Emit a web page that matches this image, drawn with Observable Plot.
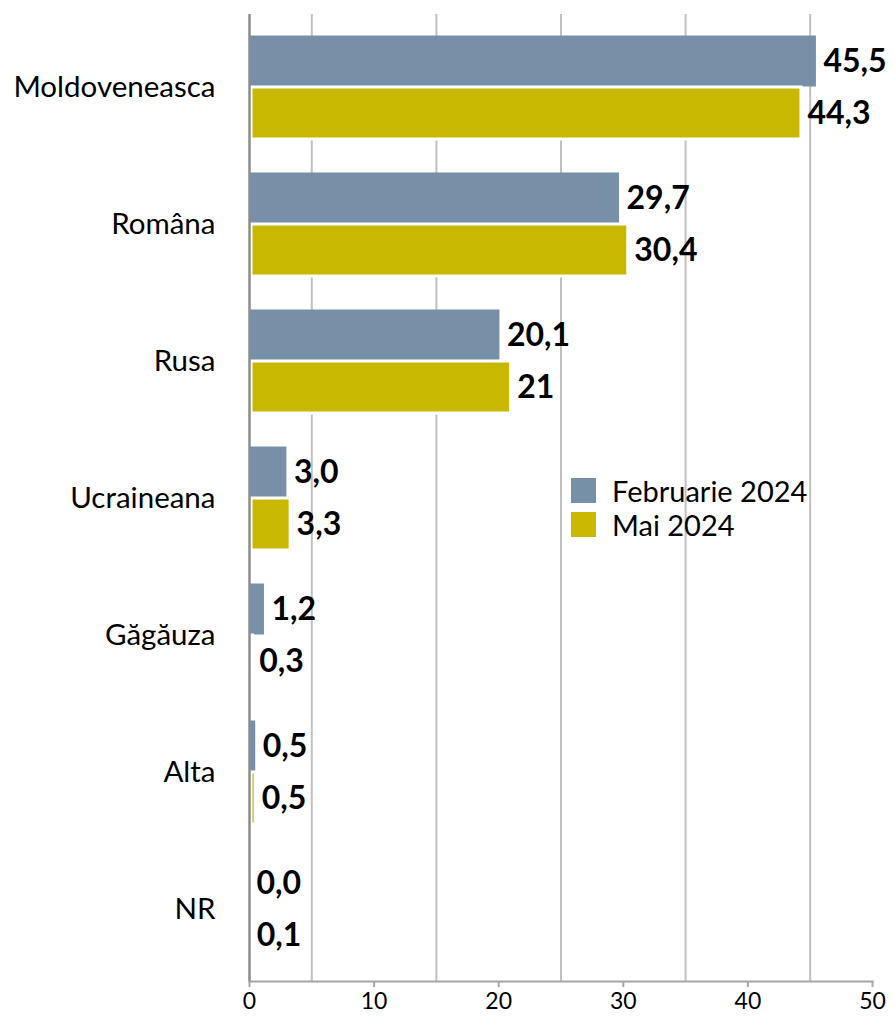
<!DOCTYPE html>
<html>
<head>
<meta charset="utf-8">
<script src="https://cdn.jsdelivr.net/npm/d3@7"></script>
<script src="https://cdn.jsdelivr.net/npm/@observablehq/plot@0.6"></script>
<style>
  html, body { margin: 0; padding: 0; background: #fff; }
  #wrap { position: relative; width: 893px; height: 1022px; font-family: Lato, "Open Sans", sans-serif; }
  .leg { position: absolute; left: 571px; height: 30px; font-size: 29px; color: #000; display: flex; align-items: center; }
  .sw { width: 25px; height: 25px; margin-right: 16px; }
</style>
</head>
<body>
<div id="wrap"></div>
<script>
const categories = ["Moldoveneasca", "Româna", "Rusa", "Ucraineana", "Găgăuza", "Alta", "NR"];
const feb = [45.5, 29.7, 20.1, 3.0, 1.2, 0.5, 0.0];
const mai = [44.3, 30.4, 21, 3.3, 0.3, 0.5, 0.1];
const febLabels = ["45,5", "29,7", "20,1", "3,0", "1,2", "0,5", "0,0"];
const maiLabels = ["44,3", "30,4", "21", "3,3", "0,3", "0,5", "0,1"];
const seriesNames = ["Februarie 2024", "Mai 2024"];
const colors = ["#7890a7", "#c9b800"];
const xTicks = [0, 10, 20, 30, 40, 50];
const gridValues = [5, 15, 25, 35, 45];

const febRows = categories.map((c, i) => ({cat: c, v: feb[i], label: febLabels[i]}));
const maiRows = categories.map((c, i) => ({cat: c, v: mai[i], label: maiLabels[i]}));

const chart = Plot.plot({
  width: 893,
  height: 1022,
  marginLeft: 249,
  marginRight: 21,
  marginTop: 14,
  marginBottom: 41,
  style: {fontFamily: "Lato, 'Open Sans', sans-serif", color: "#000", background: "#fff"},
  x: {domain: [0, 50], ticks: xTicks, label: null},
  y: {domain: categories, padding: 0, range: [15, 980], label: null},
  marks: [
    Plot.ruleX(gridValues, {stroke: "#c0c0c0", strokeWidth: 2}),
    Plot.barX(febRows, {x: "v", y: "cat", fill: colors[0], insetTop: 17.5, insetBottom: 68.5}),
    Plot.barX(maiRows, {x: "v", y: "cat", fill: colors[1], stroke: "#fff", strokeWidth: 3, insetLeft: 2, insetTop: 69, insetBottom: 16}),
    Plot.text(febRows, {x: "v", y: "cat", text: "label", dx: 7, dy: -25, textAnchor: "start", fontSize: 32, fontWeight: "bold", fill: "#000"}),
    Plot.text(maiRows, {x: "v", y: "cat", text: "label", dx: 6, dy: 27, textAnchor: "start", fontSize: 32, fontWeight: "bold", fill: "#000"}),
    Plot.ruleX([0], {stroke: "#8c8c8c", strokeWidth: 2.5}),
    Plot.frame({anchor: "bottom", stroke: "#a6a6a6", strokeWidth: 2}),
    Plot.axisX(xTicks, {tickSize: 6, stroke: "#a6a6a6", strokeWidth: 2, fill: "#000", fontSize: 23, tickPadding: 5, label: null}),
    Plot.axisY({tickSize: 0, tickPadding: 34, fontSize: 29.5, fill: "#000", label: null, dy: 1})
  ]
});

const wrap = document.getElementById("wrap");
wrap.appendChild(chart);
seriesNames.forEach((name, i) => {
  const d = document.createElement("div");
  d.className = "leg";
  d.style.top = (475 + i * 34) + "px";
  const sw = document.createElement("div");
  sw.className = "sw";
  sw.style.background = colors[i];
  const t = document.createElement("span");
  t.textContent = name;
  d.appendChild(sw);
  d.appendChild(t);
  wrap.appendChild(d);
});
</script>
</body>
</html>
